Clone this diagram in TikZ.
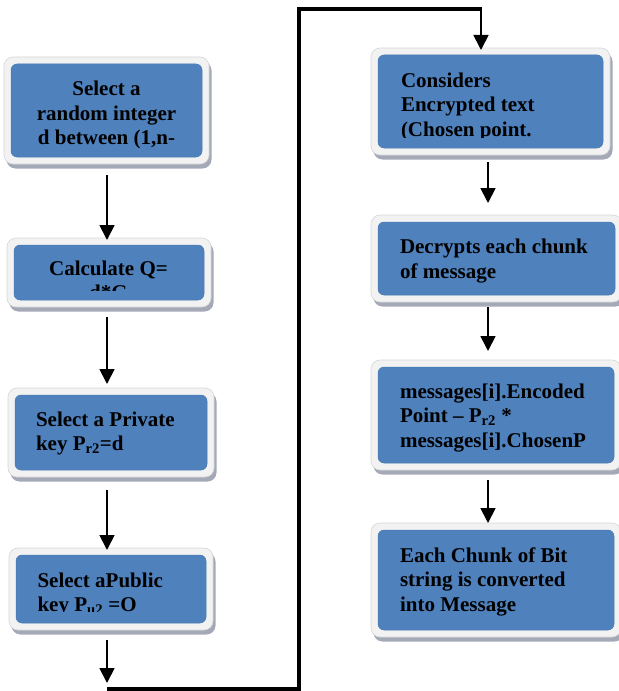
\documentclass[tikz,border=0pt]{standalone}
\usepackage{fontspec}
\setmainfont{Liberation Serif}
\usetikzlibrary{arrows.meta,shadows,fit}
\definecolor{boxblue}{HTML}{4F81BD}
\definecolor{boxedge}{HTML}{4A7AB3}
\definecolor{rimgray}{HTML}{F2F2F2}
\definecolor{rimline}{HTML}{D6D6D6}
\definecolor{shadowgray}{HTML}{A4A9B8}
\tikzset{
  outerbox/.style={rectangle, rounded corners=9bp, fill=rimgray, draw=rimline, line width=0.6bp,
    inner sep=7bp, outer sep=0pt,
    drop shadow={shadow xshift=2.5bp, shadow yshift=-4.5bp, fill=shadowgray, opacity=1}},
  innerbox/.style={rectangle, rounded corners=6bp, fill=boxblue, draw=boxedge, line width=0.5bp,
    inner sep=0pt, outer sep=0pt},
  boxtext/.style={inner sep=0pt, outer sep=0pt, text=black,
    font={\fontsize{21bp}{24.5bp}\selectfont\bfseries}},
  arr/.style={line width=1.8bp, -{Triangle[width=15bp,length=15bp]}},
  routeline/.style={line width=4bp, line join=miter}
}
\def\cliplift{10}
% #1 name, #2-#5 inner box corners, #6 text options, #7 text x, #8 first baseline, #9 text
\newcommand\flowbox[9]{%
  \node[outerbox, fit={(#2,#3) (#4,#5)}] (#1) {};
  \node[innerbox, fit={(#2,#3) (#4,#5)}] (#1in) {};
  \begin{scope}
    \clip (#2,#3) rectangle (#4,#5-\cliplift);
    \node[boxtext, #6] (#1txt) at (#7,#8-17.15) {\strut #9};
  \end{scope}}
\begin{document}
\begin{tikzpicture}[x=1bp, y=-1bp]
\useasboundingbox (0,0) rectangle (619,691);
% left column
\flowbox{b1}{11}{64}{202}{157}{anchor=north, align=center}{106.5}{95.5}{Select a\\random integer\\d between (1,n-}
\flowbox{b2}{14}{245}{204}{300}{anchor=north, align=center}{108.5}{275}{Calculate Q=\\d*G}
\flowbox{b3}{15}{395}{207}{470}{anchor=north west, align=left}{36}{426}{Select a Private\\key P\textsubscript{r2}=d}
\def\cliplift{12}
\flowbox{b4}{16}{555}{206}{623}{anchor=north west, align=left}{37.5}{587}{Select aPublic\\key P\textsubscript{u2} =O}
\def\cliplift{11}
% right column
\flowbox{b5}{378}{55}{603}{148}{anchor=north west, align=left}{401}{87}{Considers\\Encrypted text\\(Chosen point.}
\def\cliplift{10}
\flowbox{b6}{378}{222}{615}{295}{anchor=north west, align=left}{400}{253.5}{Decrypts each chunk\\of message}
\flowbox{b7}{378}{367}{614}{463}{anchor=north west, align=left}{400}{398}{messages[i].Encoded\\Point – P\textsubscript{r2} *\\messages[i].ChosenP}
\flowbox{b8}{378}{530}{614}{630}{anchor=north west, align=left}{400}{562}{Each Chunk of Bit\\string is converted\\into Message}
% route coordinates
\coordinate (xl) at (107,0);
\coordinate (xr) at (488,0);
\coordinate (c1) at (107,689);
\coordinate (c2) at (299,689);
\coordinate (c3) at (299,8.7);
\coordinate (c4) at (481,8.7);
% arrows, left column
\draw[arr, shorten <=11bp, shorten >=-2bp] (b1.south -| xl) -- (b2.north -| xl);
\draw[arr, shorten <=10bp, shorten >=4bp] (b2.south -| xl) -- (b3.north -| xl);
\draw[arr, shorten <=13bp, shorten >=-2bp] (b3.south -| xl) -- (b4.north -| xl);
\draw[arr, shorten <=10bp, shorten >=6bp] (b4.south -| xl) -- (c1);
% route
\draw[routeline] (c1) -- (c2) -- (c3) -- ([xshift=1bp]c4);
\draw[arr, shorten >=-2bp] (c4) -- (c4 |- b5.north);
% arrows, right column
\draw[arr, shorten <=7bp, shorten >=12bp] (b5.south -| xr) -- (b6.north -| xr);
\draw[arr, shorten <=5bp, shorten >=9bp] (b6.south -| xr) -- (b7.north -| xr);
\draw[arr, shorten <=10bp, shorten >=0bp] (b7.south -| xr) -- (b8.north -| xr);
\end{tikzpicture}
\end{document}
